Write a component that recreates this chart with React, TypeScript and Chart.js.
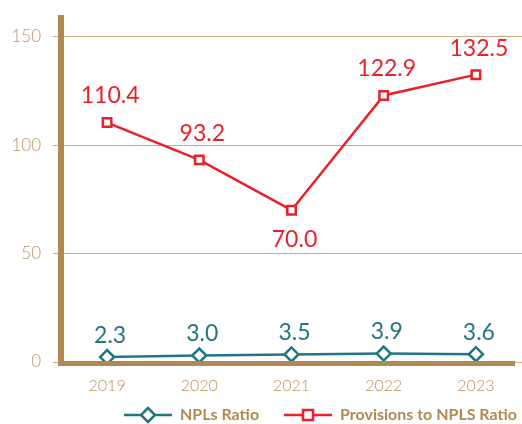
import React, { useEffect, useRef } from "react";
import { Chart, registerables } from "chart.js";

Chart.register(...registerables);

const years = ["2019", "2020", "2021", "2022", "2023"];
const nplsRatio = [2.3, 3.0, 3.5, 3.9, 3.6];
const provisionsRatio = [110.4, 93.2, 70.0, 122.9, 132.5];
const yTicks = [0, 50, 100, 150];

const TAN = "#b08a55";
const TAN_TEXT = "#b8955f";
const GRID = "#c9ad82";
const TEAL = "#237580";
const RED = "#e8212b";
const FONT = "Lato, 'Open Sans', sans-serif";

const labelsPlugin = {
  id: "valueLabels",
  afterDatasetsDraw(chart: any) {
    const ctx = chart.ctx;
    ctx.save();
    chart.data.datasets.forEach((ds: any, di: number) => {
      const meta = chart.getDatasetMeta(di);
      ctx.fillStyle = di === 0 ? TEAL : RED;
      ctx.font = `400 23px ${FONT}`;
      ctx.textAlign = "center";
      meta.data.forEach((pt: any, i: number) => {
        const v = ds.data[i];
        const below = di === 1 && i === 2;
        ctx.textBaseline = below ? "top" : "bottom";
        const y = below ? pt.y + 18 : pt.y - (di === 0 ? 10 : 15);
        ctx.fillText(v.toFixed(1), pt.x + 3, y);
      });
    });
    ctx.restore();
  },
};

const axesPlugin = {
  id: "axesLines",
  afterDraw(chart: any) {
    const ctx = chart.ctx;
    const a = chart.chartArea;
    ctx.save();
    ctx.fillStyle = TAN;
    ctx.fillRect(a.left - 3, a.top, 6, a.bottom - a.top + 4);
    ctx.fillRect(a.left - 3, a.bottom - 1, a.right - 7 - (a.left - 3), 5);
    ctx.restore();
  },
};

const legendPlugin = {
  id: "customLegend",
  afterDraw(chart: any) {
    const ctx = chart.ctx;
    const y = 415;
    const items = [
      { x: 124, color: TEAL, text: "NPLs Ratio", shape: "diamond" },
      { x: 284, color: RED, text: "Provisions to NPLS Ratio", shape: "square" },
    ];
    ctx.save();
    items.forEach((it) => {
      ctx.strokeStyle = it.color;
      ctx.lineWidth = 2.5;
      ctx.beginPath();
      ctx.moveTo(it.x, y);
      ctx.lineTo(it.x + 48, y);
      ctx.stroke();
      const cx = it.x + 24;
      ctx.fillStyle = "#fff";
      ctx.beginPath();
      if (it.shape === "diamond") {
        ctx.moveTo(cx, y - 7);
        ctx.lineTo(cx + 7, y);
        ctx.lineTo(cx, y + 7);
        ctx.lineTo(cx - 7, y);
        ctx.closePath();
      } else {
        ctx.rect(cx - 5, y - 5, 10, 10);
      }
      ctx.fill();
      ctx.stroke();
      ctx.fillStyle = TAN;
      ctx.font = `700 16px ${FONT}`;
      ctx.textAlign = "left";
      ctx.textBaseline = "middle";
      ctx.fillText(it.text, it.x + 56, y);
    });
    ctx.restore();
  },
};

export default function App() {
  const ref = useRef<HTMLCanvasElement | null>(null);
  useEffect(() => {
    if (!ref.current) return;
    const chart = new Chart(ref.current, {
      type: "line",
      data: {
        labels: years,
        datasets: [
          {
            label: "NPLs Ratio",
            data: nplsRatio,
            borderColor: TEAL,
            backgroundColor: "#fff",
            borderWidth: 2.5,
            pointStyle: "rectRot",
            pointRadius: 7,
            pointBorderWidth: 2.5,
            pointBackgroundColor: "#fff",
            pointBorderColor: TEAL,
          },
          {
            label: "Provisions to NPLS Ratio",
            data: provisionsRatio,
            borderColor: RED,
            backgroundColor: "#fff",
            borderWidth: 2.5,
            pointStyle: "rect",
            pointRadius: 6,
            pointBorderWidth: 2.5,
            pointBackgroundColor: "#fff",
            pointBorderColor: RED,
          },
        ],
      },
      options: {
        animation: false,
        responsive: false,
        maintainAspectRatio: false,
        layout: { autoPadding: false, padding: { top: 15, right: 0, left: 0, bottom: 22 } },
        plugins: {
          legend: { display: false },
          tooltip: { enabled: false },
        },
        scales: {
          x: {
            offset: true,
            grid: { display: false },
            border: { display: false },
            ticks: {
              color: TAN_TEXT,
              font: { family: FONT, size: 16, weight: "300" },
              padding: 6,
            },
            afterFit(scale: any) {
              scale.height = 40;
              scale.paddingLeft = 0;
              scale.paddingRight = 0;
            },
          },
          y: {
            min: 0,
            max: 160,
            afterBuildTicks(scale: any) {
              scale.ticks = yTicks.map((v) => ({ value: v }));
            },
            grid: {
              color: GRID,
              lineWidth: 1,
              tickLength: 8,
              drawTicks: true,
            },
            border: { display: false },
            ticks: {
              color: TAN_TEXT,
              font: { family: FONT, size: 17, weight: "300" },
              padding: 12,
            },
            afterFit(scale: any) {
              scale.width = 61;
              scale.paddingTop = 0;
              scale.paddingBottom = 0;
            },
          },
        },
      },
      plugins: [labelsPlugin, axesPlugin, legendPlugin],
    } as any);
    return () => chart.destroy();
  }, []);
  return (
    <div style={{ position: "absolute", left: 0, top: 0, width: 522, height: 424, background: "#fff" }}>
      <canvas ref={ref} width={522} height={424} style={{ display: "block" }} />
    </div>
  );
}
